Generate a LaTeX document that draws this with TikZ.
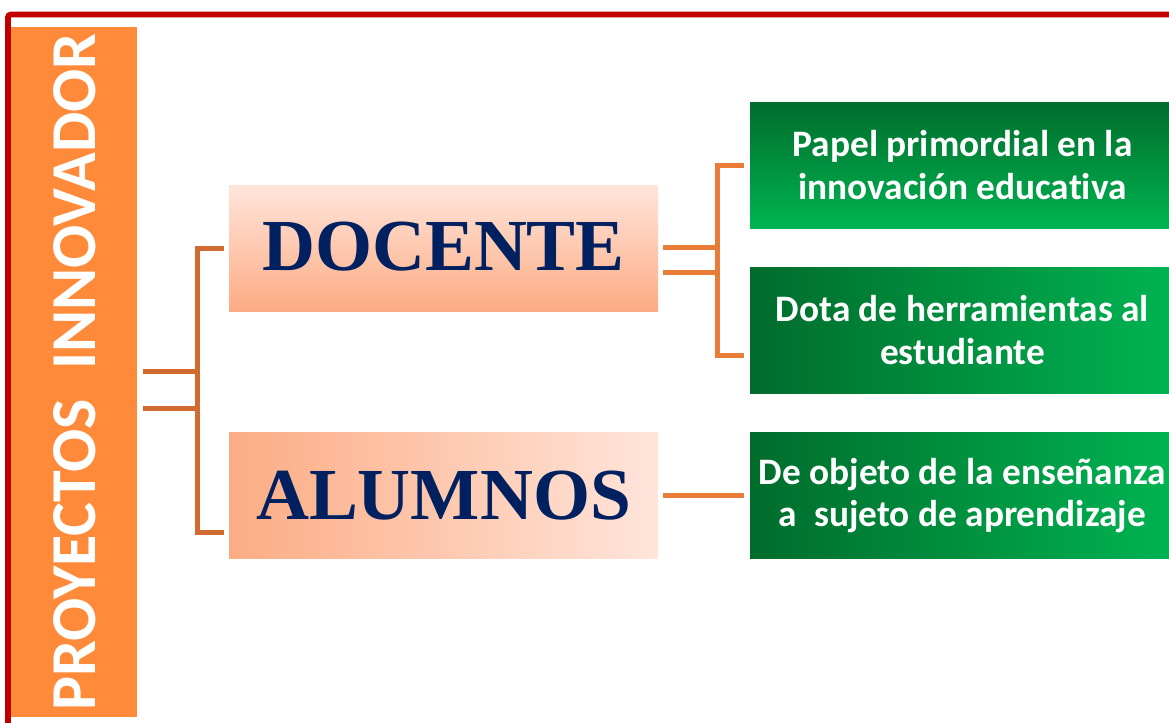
\documentclass[tikz,border=0pt]{standalone}
\usepackage{fontspec}
\setmainfont{Liberation Serif}
\newfontfamily\calibri[Ligatures=NoCommon]{Carlito}
\usepackage{tikz}
\usetikzlibrary{calc}

\definecolor{frame}{RGB}{192,0,0}
\definecolor{barorange}{RGB}{255,138,58}
\definecolor{navy}{RGB}{0,32,96}
\definecolor{peachL}{RGB}{255,229,219}
\definecolor{peachD}{RGB}{252,172,132}
\definecolor{greenD}{RGB}{0,108,44}
\definecolor{greenL}{RGB}{0,180,82}
\definecolor{brkL}{RGB}{209,107,48}
\definecolor{brkR}{RGB}{233,125,55}

\begin{document}
\begin{tikzpicture}[x=0.75pt,y=-0.75pt,
	peach/.style={minimum width=321.75pt, minimum height=94.5pt, inner sep=0pt,
		text=navy, font=\bfseries\fontsize{55}{60}\selectfont},
	greenbox/.style={minimum width=318.75pt, minimum height=94.5pt, inner sep=0pt,
		align=center, text=white, font=\calibri\bfseries\fontsize{28}{32}\selectfont},
	lbrk/.style={draw=brkL, line width=3.75pt},
	rbrk/.style={draw=brkR, line width=3.75pt}]

	% Page
	\useasboundingbox (0,0) rectangle (1169,722);
	\fill[white] (0,0) rectangle (1169,722);
	\draw[frame, line width=4.2pt, rounded corners=2pt] (8,730) -- (8,14.5) -- (1180,14.5);

	% Title bar
	\node[fill=barorange, rotate=90, minimum width=517.5pt, minimum height=94.5pt,
		inner sep=0pt, text=white, font=\calibri\bfseries\fontsize{48}{50}\selectfont]
		(bar) at (74.3,372) {PROYECTOS\ \ INNOVADOR};

	% Middle boxes
	\node[peach, top color=peachL, bottom color=peachD] (doc) at (443.5,248)
		{\raisebox{2pt}{DOCENTE}};
	\node[peach, left color=peachD, right color=peachL] (alu) at (443.5,495.5) {ALUMNOS};

	% Right boxes
	\node[greenbox, top color=greenD, bottom color=greenL] (gr1) at (962.5,165)
		{Papel primordial en la\\innovación educativa};
	\node[greenbox, left color=greenD, right color=greenL] (gr2) at (962.5,330)
		{Dota de herramientas al\\estudiante};
	\node[greenbox, left color=greenD, right color=greenL] (gr3) at (962.5,495.5)
		{De objeto de la enseñanza\\a\ \ sujeto de aprendizaje};

	% Left bracket
	\coordinate (s1) at (143,371);
	\coordinate (s2) at (143,408);
	\coordinate (jL) at (197,532);
	\draw[lbrk] (s1) -- (s1 -| jL);
	\draw[lbrk] (s2) -- (s2 -| jL);
	\draw[lbrk] ($(doc.west)+(-5,0)$) -| (jL) -- ($(alu.west)+(-5,36.5)$);

	% Right bracket
	\coordinate (jR) at (717,355);
	\coordinate (d1) at ($(doc.east)+(5,-0.5)$);
	\coordinate (d2) at ($(doc.east)+(5,24)$);
	\draw[rbrk] (d1) -- (d1 -| jR);
	\draw[rbrk] (d2) -- (d2 -| jR);
	\draw[rbrk] ($(gr1.west)+(-6,0)$) -| (jR) -- ($(gr2.west)+(-6,25)$);

	% Alumnos link
	\draw[rbrk] ($(alu.east)+(5,0)$) -- ($(gr3.west)+(-6,0)$);

\end{tikzpicture}
\end{document}
